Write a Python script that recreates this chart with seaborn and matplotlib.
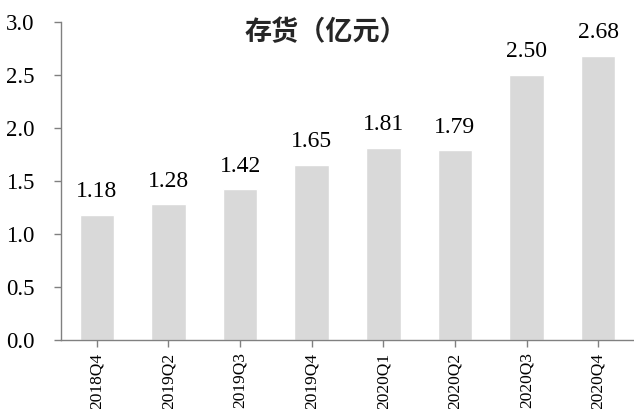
import matplotlib
matplotlib.use("Agg")
import matplotlib.pyplot as plt
import seaborn as sns
import pandas as pd

quarters = ["2018Q4", "2019Q2", "2019Q3", "2019Q4", "2020Q1", "2020Q2", "2020Q3", "2020Q4"]
inventory = [1.18, 1.28, 1.42, 1.65, 1.81, 1.79, 2.50, 2.68]
title_text = "存货（亿元）"

sns.set_theme(style="white")
plt.rcParams["font.family"] = ["Liberation Serif", "Noto Sans CJK SC"]

df = pd.DataFrame({"quarter": quarters, "value": inventory})

fig = plt.figure(figsize=(6.34, 4.09), dpi=100)
ax = fig.add_axes([61 / 634, 69 / 409, 573 / 634, 318 / 409])

sns.barplot(data=df, x="quarter", y="value", color="#D9D9D9", width=0.48,
            saturation=1, ax=ax, zorder=1)

for i, v in enumerate(inventory):
    ax.text(i, v + 0.12, f"{v:.2f}", ha="center", va="bottom",
            fontsize=17, color="black")

yticks = [0, 0.5, 1.0, 1.5, 2.0, 2.5, 3.0]
ax.set_xlim(-0.5, len(quarters) - 0.5)
ax.set_ylim(0, 3.0)
ax.set_yticks(yticks)
ax.set_yticklabels([f"{t:.1f}" for t in yticks], fontsize=16.5)
ax.set_xticks(range(len(quarters)))
ax.set_xticklabels(quarters, rotation=90, fontsize=12.5)
ax.set_xlabel("")
ax.set_ylabel("")

for side in ["top", "right"]:
    ax.spines[side].set_visible(False)
for side in ["left", "bottom"]:
    ax.spines[side].set_color("#808080")
    ax.spines[side].set_linewidth(1.0)
    ax.spines[side].set_zorder(3)

ax.tick_params(axis="y", which="major", direction="out", length=5, width=1,
               color="#808080", left=True, pad=14, labelcolor="black")
ax.tick_params(axis="x", which="major", direction="out", length=5, width=1,
               color="#808080", bottom=True, pad=4, labelcolor="black")

fig.text(326 / 634, 1 - 32 / 409, title_text, ha="center", va="center",
         fontsize=19.5, fontweight="bold", family=["Noto Sans CJK SC"])

fig.savefig("out.png", dpi=100)
